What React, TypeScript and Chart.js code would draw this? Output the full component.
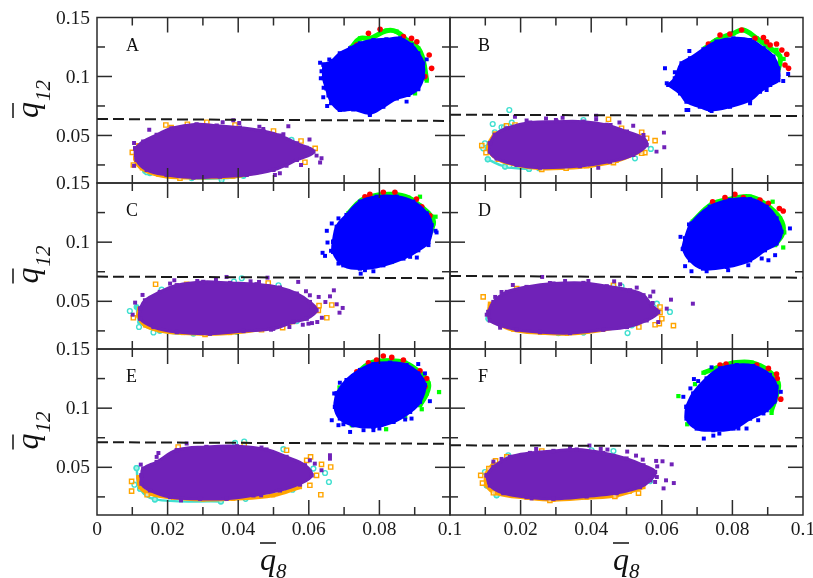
import React, { useEffect, useRef } from "react";
import { Chart, registerables } from "chart.js";

Chart.register(...registerables);

type P = [number, number];

const xLabelsLeft = [0, 0.02, 0.04, 0.06, 0.08, 0.1];
const xLabelsRight = [0.02, 0.04, 0.06, 0.08, 0.1];
const xMajor = [0.02, 0.04, 0.06, 0.08];
const xMinor = [0.01, 0.03, 0.05, 0.07, 0.09];
const yMajor = [0.05, 0.1];
const yMinor = [0.025, 0.075, 0.125];
const yLabels = [0.05, 0.1, 0.15];
const lettersList = ["A", "B", "C", "D", "E", "F"];

// ---- Panel A ----
const aDash: P[] = [[0, 0.064], [0.1, 0.0623]];
const aBlue: P[] = [[.0642,.11],[.0665,.113],[.0688,.1196],[.0717,.1239],[.0745,.1281],[.0783,.1309],[.082,.1315],[.0858,.1323],[.0891,.1267],[.091,.1196],[.0924,.1112],[.0924,.0999],[.091,.09],[.0882,.0843],[.0849,.0815],[.0811,.0744],[.0773,.0688],[.0726,.0722],[.0688,.0716],[.0665,.078],[.0656,.084],[.065,.09],[.0642,.0985]];
const aBlueOut: P[] = [[.0632,.1117],[.0658,.1145],[.0634,.0985],[.0641,.0824],[.0652,.075],[.0773,.0674],[.0877,.0787],[.0934,.1145],[.091,.0891],[.0636,.1045],[.0642,.0905],[.0648,.0965],[.0663,.0772]];
const aGreen: P[] = [[.0721,.1247],[.0745,.1323],[.0773,.1323],[.082,.1388],[.0849,.138],[.0877,.1309],[.091,.1239],[.0924,.114],[.0934,.0965]];
const aGreenOut: P[] = [[.0891,.0872],[.0901,.0857]];
const aRed: P[] = [[.0769,.1366],[.0802,.14],[.0868,.1338],[.0891,.1323],[.0906,.1295],[.0941,.1182],[.0948,.1069],[.0929,.0999],[.0736,.1267]];
const aPurple: P[] = [[.0108,.0391],[.0131,.0448],[.0169,.0504],[.0211,.0561],[.0282,.0595],[.0339,.0583],[.0405,.0566],[.0471,.0538],[.0518,.0499],[.0566,.0434],[.0613,.0363],[.0566,.0292],[.05,.0208],[.0424,.0165],[.0348,.0151],[.0273,.0143],[.0197,.0165],[.0141,.0208],[.0112,.0292]];
const aPurpleOut: P[] = [[.0148,.0549],[.0105,.0436],[.0356,.0612],[.0386,.0629],[.0403,.0606],[.0542,.0578],[.0602,.0465],[.0636,.0306],[.0632,.027],[.0622,.0329],[.0594,.0397],[.0105,.0244],[.0504,.0165],[.0518,.0179],[.0578,.025],[.0537,.0244],[.046,.0575],[.0471,.0555],[.0528,.051],[.0609,.0357]];
const aOrange: P[] = [[.0117,.0419],[.0108,.0306],[.0127,.0222],[.0174,.0165],[.0235,.0145],[.0301,.0145],[.0386,.0151],[.0452,.0188]];
const aOrangeOut: P[] = [[.0195,.0589],[.021,.0566],[.0256,.0595],[.0311,.0612],[.0391,.0589],[.05,.0538],[.0578,.0453],[.0618,.0391],[.0589,.0273],[.01,.0357],[.0103,.025],[.0235,.0137]];
const aCyan: P[] = [[.0136,.0199],[.015,.0179],[.0268,.0137],[.0353,.0137],[.0415,.0157]];
const aCyanOut: P[] = [[.0353,.0123],[.0141,.0188],[.0551,.0462]];

// ---- Panel B ----
const bDash: P[] = [[0, 0.0676], [0.1, 0.0665]];
const bBlue: P[] = [[.0619,.0928],[.0637,.0984],[.0656,.1112],[.068,.1154],[.0718,.123],[.0755,.1295],[.0803,.1323],[.085,.1309],[.0888,.1239],[.0916,.1168],[.093,.1069],[.093,.097],[.0907,.0928],[.0878,.0872],[.085,.0801],[.0793,.0744],[.0737,.0716],[.0708,.0744],[.067,.0787],[.0652,.0857]];
const bBlueOut: P[] = [[.0609,.1069],[.0678,.1216],[.0637,.1035],[.0614,.0942],[.067,.0716],[.0675,.0716],[.0944,.0962],[.0958,.1021],[.0741,.0708],[.0897,.0886],[.085,.0773]];
const bGreen: P[] = [[.0722,.1239],[.0755,.1309],[.0803,.1366],[.0831,.1394],[.0869,.1323],[.0907,.1239],[.0935,.1168],[.093,.1055]];
const bGreenOut: P[] = [[.0925,.1225],[.0945,.115]];
const bRed: P[] = [[.0732,.1275],[.0765,.1352],[.0793,.136],[.0826,.1394],[.0864,.1323],[.0888,.1331],[.0897,.1295],[.0907,.1267],[.0925,.1275],[.0954,.1188],[.0949,.1097],[.0959,.1069],[.094,.1225]];
const bPurple: P[] = [[.0113,.0434],[.0127,.0504],[.016,.0561],[.0227,.0609],[.0302,.0617],[.0378,.0617],[.0444,.0589],[.0501,.0532],[.0548,.0476],[.0557,.0419],[.0519,.0335],[.0453,.0278],[.0368,.0241],[.0255,.0227],[.0189,.025],[.0132,.0306],[.0113,.0363]];
const bPurpleOut: P[] = [[.0184,.0659],[.0319,.0651],[.0414,.0668],[.0414,.0637],[.0272,.0643],[.0217,.0626],[.03,.0631],[.048,.0609],[.0519,.0583],[.0606,.0524],[.0607,.04],[.0585,.0363],[.0548,.0504],[.042,.0227],[.0455,.0589]];
const bOrange: P[] = [[.0127,.0518],[.0108,.0391],[.0137,.0298],[.0189,.025],[.0255,.0222],[.0331,.0227],[.0397,.0244],[.0472,.0284],[.0538,.0363]];
const bOrangeOut: P[] = [[.009,.0414],[.0102,.0354],[.0137,.0298],[.026,.0213],[.0329,.0222],[.0387,.0244],[.0449,.0637],[.0486,.0561],[.0543,.0527],[.0557,.0476],[.0581,.0456],[.0552,.0354],[.0543,.0349],[.0463,.027],[.0184,.0589],[.016,.0581]];
const bCyan: P[] = [[.0107,.0298],[.0156,.0236],[.0224,.0216]];
const bCyanOut: P[] = [[.0168,.0716],[.0121,.0597],[.0146,.0569],[.0153,.0569],[.0175,.0609],[.0127,.0527],[.0094,.0391],[.0099,.0434],[.0107,.0298],[.0156,.0236],[.0168,.0244],[.0224,.0216],[.0252,.0222],[.0569,.0386],[.0524,.0306],[.0378,.0631]];

// ---- Panel C ----
const cDash: P[] = [[0, 0.0709], [0.1, 0.0695]];
const cBlue: P[] = [[.0669,.1003],[.0679,.113],[.0707,.1229],[.0745,.1342],[.0792,.1384],[.0849,.1384],[.0896,.1342],[.0934,.1243],[.0948,.1144],[.0939,.1003],[.091,.0932],[.0868,.0862],[.0811,.0805],[.0745,.0777],[.0698,.0805],[.0669,.0918]];
const cBlueOut: P[] = [[.0651,.1096],[.0665,.1158],[.0684,.1201],[.0653,.0997],[.0639,.091],[.0646,.0884],[.0663,.0927],[.0959,.1096],[.0962,.1082],[.0939,.0975],[.0936,.1003],[.0906,.087],[.0887,.0876],[.0747,.0734],[.0783,.0754],[.0759,.0763],[.0707,.0805],[.0684,.0819]];
const cGreen: P[] = [[.0712,.1243],[.075,.1356],[.0797,.1398],[.0839,.1404],[.0882,.1376],[.0915,.1308],[.0948,.1215],[.0953,.1158],[.0939,.1045]];
const cGreenOut: P[] = [[.0959,.1215],[.0915,.1384],[.0915,.0989],[.0835,.0833],[.0724,.0805]];
const cRed: P[] = [[.0759,.1384],[.0773,.1404],[.0811,.1421],[.0844,.1421],[.0905,.1364],[.092,.1299],[.0943,.1223],[.0938,.113],[.0769,.137]];
const cPurple: P[] = [[.0122,.0438],[.0136,.0508],[.0178,.0579],[.0226,.0636],[.0301,.0664],[.0377,.0655],[.0452,.0644],[.0518,.0616],[.0566,.0565],[.0603,.0494],[.0622,.0424],[.0594,.0353],[.0556,.0325],[.0499,.0268],[.0415,.0249],[.032,.0226],[.0226,.024],[.016,.0283],[.0122,.0353]];
const cPurpleOut: P[] = [[.0129,.0554],[.0108,.0489],[.0101,.0387],[.0207,.065],[.0219,.0678],[.0284,.0672],[.0337,.0684],[.0367,.0706],[.0483,.07],[.057,.0664],[.0435,.0669],[.0459,.0664],[.0592,.0585],[.0603,.0551],[.0628,.0537],[.0671,.0593],[.066,.0542],[.0647,.0494],[.0679,.0475],[.0696,.0444],[.0687,.0404],[.0637,.0361],[.0624,.0325],[.0609,.0316],[.0599,.0311],[.0583,.0302],[.0545,.0283],[.0493,.026],[.0608,.0452]];
const cOrange: P[] = [[.012,.0438],[.0117,.0381],[.0136,.0296],[.0178,.0254],[.0244,.0232],[.0311,.0226],[.0377,.0232],[.0471,.0268],[.0556,.0325]];
const cOrangeOut: P[] = [[.0166,.0644],[.0254,.0644],[.0306,.022],[.0485,.0655],[.0526,.0277],[.0651,.0361],[.0665,.0469],[.0629,.0463],[.0627,.0424],[.0466,.026],[.0103,.0361]];
const cCyan: P[] = [[.0112,.0452],[.0122,.0325],[.0178,.0249],[.0273,.0226],[.0396,.024]];
const cCyanOut: P[] = [[.0093,.0418],[.0119,.0283],[.016,.0237],[.041,.0695],[.0388,.0667],[.0287,.065],[.0514,.0636],[.0183,.0599],[.0566,.0333]];

// ---- Panel D ----
const dDash: P[] = [[0, 0.0714], [0.1, 0.07]];
const dBlue: P[] = [[.0666,.1031],[.0684,.1158],[.0736,.1299],[.0793,.1356],[.085,.1364],[.0897,.1299],[.0925,.1201],[.0939,.1088],[.0925,.0989],[.0892,.0932],[.085,.0847],[.0784,.0791],[.0717,.0777],[.068,.0847],[.0661,.0946]];
const dBlueOut: P[] = [[.0653,.1045],[.0963,.1116],[.0659,.0941],[.0666,.0797],[.0684,.0754],[.0727,.0754],[.0788,.0763],[.0845,.0805],[.0883,.0862],[.0902,.0847],[.0921,.089],[.0677,.115]];
const dGreen: P[] = [[.0687,.1172],[.0741,.1319],[.0793,.1364],[.085,.1384],[.0897,.1314],[.0935,.1201],[.0944,.1088],[.0921,.0975]];
const dGreenOut: P[] = [[.0944,.0955],[.0914,.1342],[.0947,.1082]];
const dRed: P[] = [[.0744,.1342],[.0779,.1376],[.0807,.1404],[.0831,.1376],[.0878,.1356],[.0902,.1328],[.0933,.1285],[.0944,.1263],[.0906,.0975]];
const dPurple: P[] = [[.0109,.041],[.0123,.0494],[.0161,.0579],[.0217,.0621],[.0293,.065],[.0378,.0655],[.0444,.0627],[.051,.0593],[.0548,.0551],[.0571,.0466],[.059,.041],[.0557,.0339],[.0501,.0283],[.0434,.026],[.034,.0232],[.0255,.024],[.0189,.026],[.0142,.0297],[.0113,.0339]];
const dPurpleOut: P[] = [[.0261,.0706],[.0178,.0638],[.0146,.0579],[.0128,.0537],[.0104,.0387],[.0113,.0339],[.0142,.0277],[.0283,.0655],[.0326,.0672],[.0392,.0672],[.0465,.0669],[.0482,.0644],[.0529,.0616],[.0576,.0582],[.0626,.0514],[.0688,.048],[.0567,.0542],[.0574,.0486],[.0614,.0438],[.059,.0325]];
const dOrange: P[] = [[.0113,.048],[.0111,.0381],[.0128,.0325],[.0179,.026],[.0255,.0235],[.0331,.0226],[.0434,.026],[.051,.0311]];
const dOrangeOut: P[] = [[.0094,.0537],[.0633,.0294],[.0581,.0302],[.0593,.0311],[.0535,.0283],[.06,.0353],[.0595,.0404],[.0463,.0636],[.0189,.0607],[.0595,.0452]];
const dCyan: P[] = [[.0109,.0353],[.0307,.0232],[.0378,.0237]];
const dCyanOut: P[] = [[.0623,.041],[.0586,.048],[.0503,.0232],[.0486,.0627],[.0463,.0627],[.0109,.0353],[.0307,.0232],[.0378,.0237],[.0515,.0297]];

// ---- Panel E ----
const eDash: P[] = [[0, 0.0712], [0.1, 0.0699]];
const eBlue: P[] = [[.0679,.1124],[.0707,.1237],[.0745,.1322],[.0783,.1373],[.083,.1384],[.0877,.1364],[.091,.1294],[.0929,.1195],[.0915,.1054],[.0887,.0969],[.084,.0884],[.0783,.0842],[.0726,.0856],[.0688,.0913],[.0674,.1011]];
const eBlueOut: P[] = [[.0665,.0898],[.0684,.0856],[.0698,.0864],[.0717,.0799],[.0755,.0814],[.0783,.0814],[.08,.0828],[.091,.1373],[.0943,.1059],[.0891,.0912],[.0873,.0904],[.0672,.1124],[.0688,.1215],[.0929,.1294]];
const eGreen: P[] = [[.0731,.128],[.0773,.1379],[.0821,.1401],[.0873,.1384],[.0915,.1299],[.0939,.1209],[.0934,.1124],[.0915,.1025]];
const eGreenOut: P[] = [[.0969,.1136],[.0819,.0822],[.0722,.0856],[.0687,.1175],[.092,.0991],[.0873,.0927]];
const eRed: P[] = [[.0736,.1308],[.0769,.1384],[.0792,.1407],[.0811,.1441],[.0835,.1429],[.0868,.1407],[.0915,.1316],[.0934,.1251],[.0929,.1181]];
const ePurple: P[] = [[.0126,.0432],[.0131,.0489],[.0169,.0545],[.0226,.0644],[.031,.0672],[.0396,.0678],[.048,.065],[.0537,.0588],[.0589,.0517],[.0608,.0432],[.0575,.0362],[.0518,.0305],[.0443,.0263],[.0367,.0234],[.0292,.0234],[.0207,.0249],[.015,.0305],[.0126,.0362]];
const ePurpleOut: P[] = [[.0254,.0701],[.0226,.0644],[.0174,.0621],[.0169,.0588],[.0124,.0523],[.0238,.022],[.066,.0602],[.066,.0573],[.0617,.0531],[.0603,.0559],[.0636,.0475],[.0465,.0263],[.0575,.0353],[.0466,.0667],[.031,.0667]];
const eOrange: P[] = [[.0117,.0418],[.0122,.0333],[.015,.0277],[.0216,.0243],[.0301,.0229],[.0386,.0234],[.0499,.0263],[.0575,.0333]];
const eOrangeOut: P[] = [[.0098,.0381],[.0098,.0299],[.0142,.0268],[.023,.0672],[.0417,.0692],[.0634,.0268],[.0605,.0588],[.0636,.0525],[.0622,.0432],[.0603,.0348],[.0662,.0503],[.0537,.0644],[.0594,.0559]];
const eCyan: P[] = [[.0112,.0494],[.0122,.0319],[.0164,.0229],[.0351,.0212]];
const eCyanOut: P[] = [[.0417,.0718],[.0391,.0706],[.0657,.0376],[.0646,.0452],[.0112,.0494],[.0106,.0353],[.0122,.0319],[.0164,.0229],[.0351,.0212],[.0421,.0234],[.0528,.0653],[.0554,.0311],[.0613,.0489]];

// ---- Panel F ----
const fDash: P[] = [[0, 0.0686], [0.1, 0.0678]];
const fBlue: P[] = [[.067,.1011],[.0689,.1124],[.0727,.1251],[.0765,.1336],[.0812,.1364],[.0859,.1356],[.0906,.128],[.0925,.1181],[.0921,.1068],[.0897,.0983],[.085,.0912],[.0803,.0828],[.0746,.0814],[.0699,.0828],[.067,.0912]];
const fBlueOut: P[] = [[.0661,.1096],[.0681,.1167],[.0691,.1246],[.0741,.1345],[.0703,.1229],[.0937,.1138],[.0719,.0743],[.0746,.0768],[.0763,.0785],[.084,.0828],[.0888,.0955],[.0873,.0898],[.0919,.1054],[.0817,.0828],[.0672,.0941]];
const fGreen: P[] = [[.0718,.1299],[.0765,.135],[.0807,.1384],[.0855,.1384],[.0902,.1316],[.093,.1209],[.0925,.111],[.0911,.0983]];
const fGreenOut: P[] = [[.0647,.1102],[.0672,.0864],[.0694,.1203],[.0911,.096]];
const fRed: P[] = [[.0765,.1364],[.0782,.1373],[.0869,.1364],[.0902,.1336],[.0925,.1288],[.0927,.1251],[.0937,.1076],[.0921,.1096]];
const fPurple: P[] = [[.0104,.0432],[.0123,.0503],[.017,.0588],[.0227,.0621],[.0293,.0638],[.0359,.065],[.0434,.0621],[.05,.0574],[.0548,.0517],[.0581,.046],[.0567,.039],[.0538,.0333],[.0472,.0282],[.0387,.0254],[.0293,.0234],[.0217,.0249],[.0151,.0282],[.0113,.0347]];
const fPurpleOut: P[] = [[.0123,.0548],[.0146,.0571],[.0244,.0655],[.034,.0672],[.0395,.0684],[.0427,.0655],[.0446,.065],[.0502,.0633],[.0527,.0599],[.0546,.0565],[.0584,.0554],[.0602,.0551],[.0628,.0525],[.0587,.0508],[.0586,.0418],[.0612,.039],[.0634,.0367],[.0605,.0322],[.0581,.0376],[.0231,.0237]];
const fOrange: P[] = [[.0123,.0531],[.0104,.0446],[.0104,.0347],[.0132,.0282],[.0217,.0243],[.0293,.0226],[.0387,.0243],[.0472,.0263],[.0548,.0333]];
const fOrangeOut: P[] = [[.0087,.0432],[.0092,.0367],[.0123,.0285],[.011,.0489],[.0129,.0554],[.0534,.0282],[.0507,.0299],[.0467,.0254],[.0283,.022],[.0161,.0588],[.026,.0638]];
const fCyan: P[] = [[.0104,.0347],[.0132,.0263]];
const fCyanOut: P[] = [[.0099,.046],[.0104,.0347],[.0132,.0263],[.0567,.0384],[.0463,.0638],[.0401,.0644],[.0165,.0602]];

const BLUE = "#0000ff", RED = "#ff0000", GREEN = "#00ff00", PURPLE = "#7022b8", ORANGE = "#ffa500", CYAN = "#40e0d0", INK = "#2b2b2b";

const pts = (a: P[]) => a.map(([x, y]) => ({ x, y }));
const cloud = (a: P[], c: string) => ({ data: pts([...a, a[0]]), showLine: true, fill: "shape", backgroundColor: c, borderColor: c, borderWidth: 3, tension: 0.4, pointStyle: "rect", pointRadius: 3, pointBackgroundColor: c, pointBorderWidth: 0 });
const band = (a: P[], c: string, style: string, w: number) => ({ data: pts(a), showLine: true, fill: false, borderColor: c, borderWidth: w, tension: 0.4, pointStyle: style, pointRadius: 3, pointBackgroundColor: c, pointBorderWidth: 0 });
const solid = (a: P[], c: string, style: string, r: number) => ({ data: pts(a), showLine: false, pointStyle: style, pointRadius: r, pointBackgroundColor: c, pointBorderWidth: 0 });
const hollow = (a: P[], c: string, style: string, r: number) => ({ data: pts(a), showLine: false, pointStyle: style, pointRadius: r, pointBackgroundColor: "rgba(255,255,255,0.5)", pointBorderColor: c, pointBorderWidth: 1.4 });

const panels = [
  { letter: lettersList[0], dash: aDash, blue: aBlue, blueOut: aBlueOut, green: aGreen, greenOut: aGreenOut, red: aRed, purple: aPurple, purpleOut: aPurpleOut, orange: aOrange, orangeOut: aOrangeOut, cyan: aCyan, cyanOut: aCyanOut },
  { letter: lettersList[1], dash: bDash, blue: bBlue, blueOut: bBlueOut, green: bGreen, greenOut: bGreenOut, red: bRed, purple: bPurple, purpleOut: bPurpleOut, orange: bOrange, orangeOut: bOrangeOut, cyan: bCyan, cyanOut: bCyanOut },
  { letter: lettersList[2], dash: cDash, blue: cBlue, blueOut: cBlueOut, green: cGreen, greenOut: cGreenOut, red: cRed, purple: cPurple, purpleOut: cPurpleOut, orange: cOrange, orangeOut: cOrangeOut, cyan: cCyan, cyanOut: cCyanOut },
  { letter: lettersList[3], dash: dDash, blue: dBlue, blueOut: dBlueOut, green: dGreen, greenOut: dGreenOut, red: dRed, purple: dPurple, purpleOut: dPurpleOut, orange: dOrange, orangeOut: dOrangeOut, cyan: dCyan, cyanOut: dCyanOut },
  { letter: lettersList[4], dash: eDash, blue: eBlue, blueOut: eBlueOut, green: eGreen, greenOut: eGreenOut, red: eRed, purple: ePurple, purpleOut: ePurpleOut, orange: eOrange, orangeOut: eOrangeOut, cyan: eCyan, cyanOut: eCyanOut },
  { letter: lettersList[5], dash: fDash, blue: fBlue, blueOut: fBlueOut, green: fGreen, greenOut: fGreenOut, red: fRed, purple: fPurple, purpleOut: fPurpleOut, orange: fOrange, orangeOut: fOrangeOut, cyan: fCyan, cyanOut: fCyanOut },
];

const W = 813, H = 578;
const colX = [97, 450, 803];
const rowY = [17.5, 183, 349, 515];
const tickFont = { family: "'Liberation Serif', serif", size: 19.5 };

const framePlugin = {
  id: "frame",
  afterDatasetsDraw(chart: any) {
    const { ctx, chartArea: a, scales } = chart;
    const { x: sx, y: sy } = scales;
    const opt = chart.options.plugins.frame;
    ctx.save();
    ctx.strokeStyle = INK;
    ctx.lineWidth = 1.5;
    ctx.strokeRect(a.left, a.top, a.right - a.left, a.bottom - a.top);
    const line = (x1: number, y1: number, x2: number, y2: number) => { ctx.beginPath(); ctx.moveTo(x1, y1); ctx.lineTo(x2, y2); ctx.stroke(); };
    const vt = (v: number, l: number) => { const p = sx.getPixelForValue(v); line(p, a.bottom, p, a.bottom - l); line(p, a.top, p, a.top + l); };
    const ht = (v: number, l: number) => { const p = sy.getPixelForValue(v); line(a.left, p, a.left + l, p); line(a.right, p, a.right - l, p); };
    xMajor.forEach((v) => vt(v, 15));
    xMinor.forEach((v) => vt(v, 8));
    yMajor.forEach((v) => ht(v, 15));
    yMinor.forEach((v) => ht(v, 8));
    ctx.fillStyle = "#111";
    ctx.textAlign = "left";
    ctx.textBaseline = "alphabetic";
    ctx.font = "18px 'Liberation Serif', serif";
    ctx.fillText(opt.letter, a.left + (opt.col ? 28 : 29), a.top + 33);
    if (opt.col === 0) {
      ctx.save();
      ctx.translate(38, a.top + 100.5);
      ctx.rotate(-Math.PI / 2);
      ctx.font = "italic 32px 'Liberation Serif', serif";
      ctx.fillText("q", 0, 0);
      ctx.font = "italic 21px 'Liberation Serif', serif";
      ctx.fillText("12", 17, 12);
      ctx.strokeStyle = "#111";
      ctx.lineWidth = 1.5;
      line(0, -25, 15, -25);
      ctx.restore();
    }
    if (opt.row === 2) {
      const ox = opt.col === 0 ? 260 : 613;
      ctx.font = "italic 32px 'Liberation Serif', serif";
      ctx.fillText("q", ox, 570);
      ctx.font = "italic 21px 'Liberation Serif', serif";
      ctx.fillText("8", ox + 16, 578);
      ctx.strokeStyle = "#111";
      ctx.lineWidth = 1.5;
      line(ox, 543, ox + 16, 543);
    }
    ctx.restore();
  },
};

function Panel({ index }: { index: number }) {
  const ref = useRef<HTMLCanvasElement>(null);
  useEffect(() => {
    const p = panels[index];
    const col = index % 2;
    const row = Math.floor(index / 2);
    const xTicks = col === 0 ? xLabelsLeft : xLabelsRight;
    const noPad = (s: any) => { s.paddingLeft = 0; s.paddingRight = 0; s.paddingTop = 0; s.paddingBottom = 0; };
    const chart = new Chart(ref.current as HTMLCanvasElement, {
      type: "scatter",
      data: {
        datasets: [
          { data: pts(p.dash), showLine: true, borderColor: "#1a1a1a", borderWidth: 2, borderDash: [11, 5], pointRadius: 0, tension: 0 },
          solid(p.blueOut, BLUE, "rect", 2.8),
          cloud(p.blue, BLUE),
          solid(p.red, RED, "circle", 2.8),
          solid(p.greenOut, GREEN, "rect", 3),
          band(p.green, GREEN, "rect", 5),
          solid(p.purpleOut, PURPLE, "rect", 2.8),
          cloud(p.purple, PURPLE),
          hollow(p.orangeOut, ORANGE, "rect", 3),
          band(p.orange, ORANGE, "rect", 4),
          hollow(p.cyanOut, CYAN, "circle", 2.4),
          band(p.cyan, CYAN, "circle", 2.5),
        ] as any,
      },
      options: {
        animation: false,
        responsive: false,
        events: [],
        layout: { padding: { left: 0, right: W - colX[col + 1], top: rowY[row], bottom: 0 } },
        plugins: { legend: { display: false }, tooltip: { enabled: false }, frame: { letter: p.letter, col, row } } as any,
        scales: {
          x: {
            type: "linear", min: 0, max: 0.1,
            grid: { display: false, drawTicks: false }, border: { display: false },
            afterBuildTicks: (s: any) => { s.ticks = xTicks.map((value) => ({ value })); },
            afterFit: (s: any) => { s.height = H - rowY[row + 1]; noPad(s); },
            ticks: { display: row === 2, callback: (v: any) => String(v), autoSkip: false, minRotation: 0, maxRotation: 0, padding: 3, font: tickFont, color: "#1a1a1a" },
          },
          y: {
            type: "linear", min: 0.0097, max: 0.15,
            grid: { display: false, drawTicks: false }, border: { display: false },
            afterBuildTicks: (s: any) => { s.ticks = yLabels.map((value) => ({ value })); },
            afterFit: (s: any) => { s.width = colX[col]; noPad(s); },
            ticks: { display: col === 0, callback: (v: any) => String(v), autoSkip: false, padding: 7, labelOffset: 1, font: tickFont, color: "#1a1a1a" },
          },
        },
      } as any,
      plugins: [framePlugin],
    });
    return () => chart.destroy();
  }, [index]);
  return <canvas ref={ref} width={W} height={H} style={{ position: "absolute", left: 0, top: 0, width: W, height: H }} />;
}

export default function App() {
  return (
    <div style={{ position: "absolute", left: 0, top: 0, width: W, height: H, background: "#fff" }}>
      {panels.map((_, i) => <Panel key={i} index={i} />)}
    </div>
  );
}
